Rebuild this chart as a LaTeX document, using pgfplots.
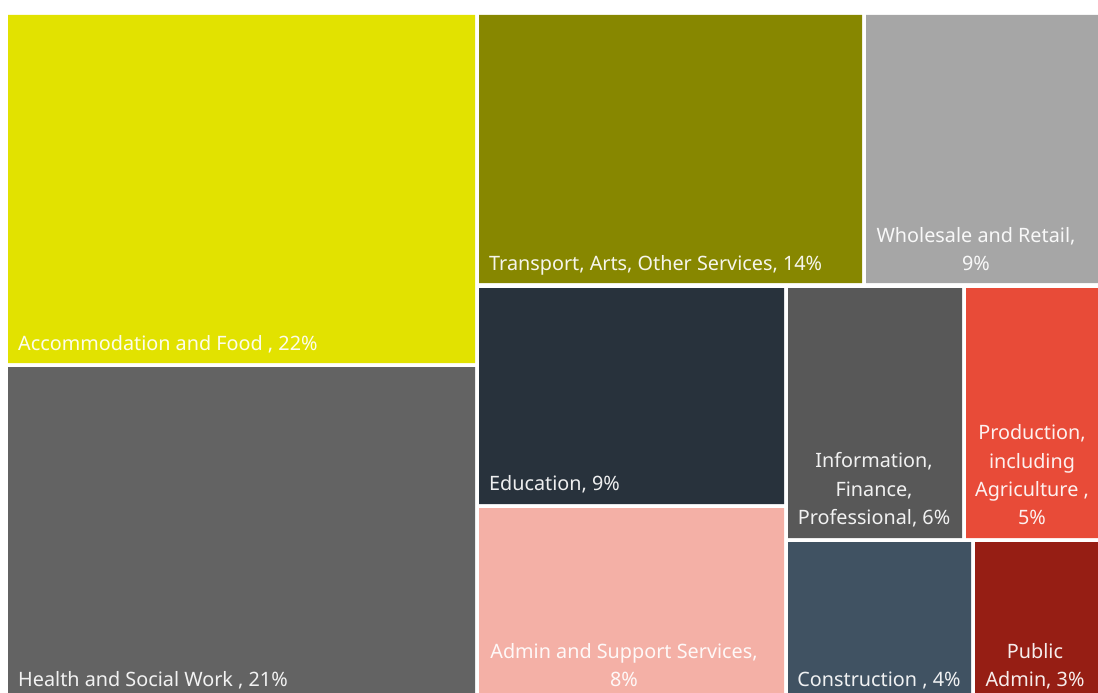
\documentclass[border=0pt]{standalone}
\usepackage{pgfplots}
\pgfplotsset{compat=1.18}
\usepackage{fontspec}
\setmainfont{Noto Sans}

\definecolor{cAccom}{HTML}{E2E200}
\definecolor{cHealth}{HTML}{636363}
\definecolor{cTrans}{HTML}{878700}
\definecolor{cWhole}{HTML}{A6A6A6}
\definecolor{cEdu}{HTML}{28323C}
\definecolor{cAdmin}{HTML}{F4B0A6}
\definecolor{cInfo}{HTML}{585858}
\definecolor{cProd}{HTML}{E84B38}
\definecolor{cConst}{HTML}{405262}
\definecolor{cPublic}{HTML}{961E14}

\tikzset{lbl/.style={font=\fontsize{19.8}{28}\selectfont, text=white, text opacity=0.92, inner sep=0pt}}

% one treemap tile: x1, x2, y1, y2 (pixel units, y downwards), colour
\newcommand{\tile}[5]{%
  \addplot[fill=#5, draw=none] coordinates {(#1,#3) (#2,#3) (#2,#4) (#1,#4) (#1,#3)};}

\begin{document}
\begin{tikzpicture}
\begin{axis}[
    width=1098pt, height=693pt,
    scale only axis,
    xmin=0, xmax=1098,
    ymin=0, ymax=693,
    y dir=reverse,
    hide axis,
]
\path (rel axis cs:0,0) rectangle (rel axis cs:1,1);
% share of employment, %: 22, 21, 14, 9, 9, 8, 6, 5, 4, 3
\tile{8}{475}{15}{363}{cAccom}
\tile{8}{475}{367}{700}{cHealth}
\tile{479}{862}{15}{283}{cTrans}
\tile{866}{1100}{15}{283}{cWhole}
\tile{479}{784}{288}{504}{cEdu}
\tile{479}{784}{508}{700}{cAdmin}
\tile{788}{962}{288}{538}{cInfo}
\tile{966}{1100}{288}{538}{cProd}
\tile{788}{971}{542}{700}{cConst}
\tile{975}{1100}{542}{700}{cPublic}

\node[lbl, anchor=base west] at (axis cs:18,350) {Accommodation and Food , 22\%};
\node[lbl, anchor=base west] at (axis cs:18,686) {Health and Social Work , 21\%};
\node[lbl, anchor=base west] at (axis cs:489,270) {Transport, Arts, Other Services, 14\%};
\node[lbl, anchor=base] at (axis cs:976,242) {Wholesale and Retail,};
\node[lbl, anchor=base] at (axis cs:976,270) {9\%};
\node[lbl, anchor=base west] at (axis cs:489,490) {Education, 9\%};
\node[lbl, anchor=base] at (axis cs:624,658) {Admin and Support Services,};
\node[lbl, anchor=base] at (axis cs:624,686) {8\%};
\node[lbl, anchor=base] at (axis cs:874,467) {Information,};
\node[lbl, anchor=base] at (axis cs:874,496) {Finance,};
\node[lbl, anchor=base] at (axis cs:874,524) {Professional, 6\%};
\node[lbl, anchor=base] at (axis cs:1032,439) {Production,};
\node[lbl, anchor=base] at (axis cs:1032,468) {including};
\node[lbl, anchor=base] at (axis cs:1032,496) {Agriculture ,};
\node[lbl, anchor=base] at (axis cs:1032,524) {5\%};
\node[lbl, anchor=base] at (axis cs:879,686) {Construction , 4\%};
\node[lbl, anchor=base] at (axis cs:1035,658) {Public};
\node[lbl, anchor=base] at (axis cs:1035,686) {Admin, 3\%};
\end{axis}
\end{tikzpicture}
\end{document}
